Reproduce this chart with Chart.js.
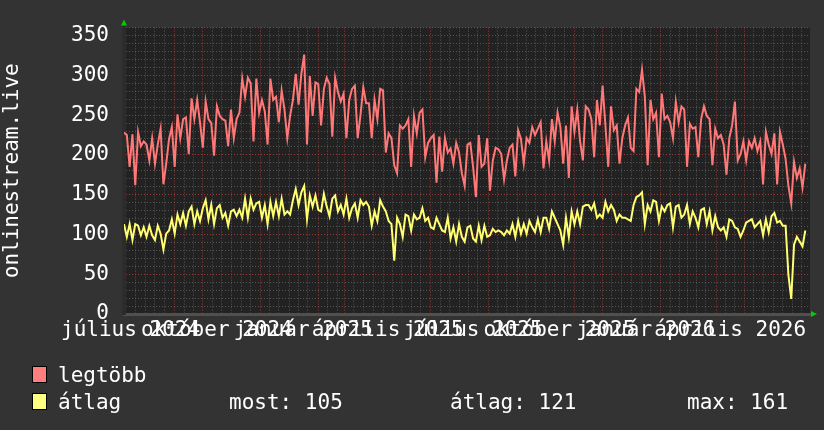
<!DOCTYPE html>
<html>
<head>
<meta charset="utf-8">
<script src="https://cdn.jsdelivr.net/npm/chart.js@4.4.1/dist/chart.umd.min.js"></script>
<style>
  html, body { margin: 0; padding: 0; background: #333; }
  #wrap { position: relative; width: 824px; height: 430px; }
  .leg { position: absolute; font: 21px 'DejaVu Sans Mono', monospace; color: #fff; line-height: 24px; white-space: pre; }
  .sw { position: absolute; left: 32px; width: 13px; height: 15px; border: 1px solid #000; }
</style>
</head>
<body>
<div id="wrap">
  <canvas id="graph" width="824" height="430"></canvas>
</div>
<script>
// napi csúcs (legtöbb) és átlag nézőszám, 3 naponta olvasva
const peakViewers = [
  228, 225, 185, 226, 162, 229, 211, 217, 213, 193,
  221, 189, 213, 233, 163, 189, 220, 235, 185, 251,
  221, 245, 247, 201, 271, 245, 269, 241, 209, 267,
  245, 240, 199, 261, 249, 245, 243, 211, 257, 221,
  245, 253, 296, 273, 297, 290, 217, 296, 253, 269,
  255, 213, 296, 269, 273, 241, 281, 257, 221, 249,
  269, 302, 263, 302, 326, 213, 299, 249, 291, 289,
  237, 283, 297, 289, 223, 297, 279, 267, 277, 221,
  269, 283, 287, 221,
  250, 285, 265, 265, 221, 269, 245, 283, 281, 203,
  227, 221, 187, 177, 237, 233, 237, 245, 185, 249,
  227, 253, 257, 197, 215, 221, 225, 165, 223, 179,
  221, 203, 208, 189, 215, 203, 177, 161, 213, 215,
  185, 147, 225, 185, 189, 221, 155, 193, 209, 207,
  201, 169, 193, 209, 213, 173, 231, 220, 189, 221,
  215, 235, 225, 233, 241, 183, 217, 193, 245, 217,
  253, 235, 189, 237, 171, 261, 229, 257, 217, 193,
  261, 257, 245, 197, 269,
  237, 287, 237, 185, 261, 231, 237, 189, 221, 237,
  247, 209, 205, 283, 279, 307, 273, 187, 269, 245,
  253, 197, 277, 245, 249, 241, 221, 267, 241, 261,
  257, 185, 239, 233, 235, 197, 245, 261, 249, 245,
  187, 233, 221, 225, 213, 175, 221, 237, 267, 193,
  201, 217, 193, 217, 209, 221, 205, 217, 163, 229,
  213, 201, 227, 163, 229, 213, 195, 161, 139, 191,
  171, 183, 159, 189
];

const avgViewers = [
  113, 97, 113, 93, 113, 111, 99, 109, 97, 111,
  99, 93, 111, 101, 81, 101, 105, 119, 101, 125,
  113, 127, 111, 129, 135, 113, 129, 117, 133, 143,
  119, 137, 113, 133, 137, 121, 127, 111, 129, 131,
  123, 131, 121, 145, 121, 145, 131, 139, 141, 121,
  137, 113, 141, 123, 141, 123, 145, 125, 129, 125,
  143, 157, 137, 153, 161, 119, 149, 135, 149, 131,
  129, 151, 135, 123, 145, 149, 129, 137, 125, 145,
  121, 133, 139, 121,
  143, 137, 141, 135, 111, 129, 117, 143, 135, 129,
  117, 113, 67, 121, 113, 97, 125, 123, 105, 125,
  119, 121, 133, 117, 121, 109, 107, 121, 113, 105,
  103, 121, 95, 109, 91, 113, 97, 91, 109, 111,
  95, 91, 111, 93, 111, 97, 99, 107, 103, 105,
  103, 99, 105, 101, 113, 97, 117, 101, 113, 101,
  117, 109, 103, 119, 103, 121, 121, 107, 129, 121,
  113, 105, 87, 121, 97, 129, 113, 129, 113, 135,
  137, 137, 131, 139, 121,
  125, 121, 141, 129, 137, 131, 117, 125, 121, 121,
  119, 117, 137, 147, 149, 153, 113, 137, 129, 143,
  141, 117, 135, 129, 137, 139, 109, 135, 137, 121,
  125, 137, 113, 129, 121, 109, 131, 133, 113, 129,
  105, 123, 109, 105, 109, 97, 119, 117, 109, 107,
  97, 105, 115, 117, 119, 109, 113, 117, 99, 119,
  103, 123, 127, 115, 117, 111, 111, 49, 19, 87,
  97, 91, 85, 105
];

const xLabels = ['július 2024', 'október 2024', 'január 2025', 'április 2025',
                 'július 2025', 'október 2025', 'január 2026', 'április 2026'];
const xLabelDates = ['2024-07-16', '2024-10-16', '2025-01-16', '2025-04-16',
                     '2025-07-16', '2025-10-16', '2026-01-16', '2026-04-16'];
const yLabels = [0, 50, 100, 150, 200, 250, 300, 350];
const yMax = 360;
const legendStats = ['most: 105', 'átlag: 121', 'max: 161'];

const startDate = Date.UTC(2024, 6, 9);
const dayMs = 86400000;
const stepDays = 3;
const spanDays = 731;
const sampleDays = peakViewers.map((v, i) => i * stepDays);
const dayOf = s => (Date.parse(s) - startDate) / dayMs;

const redGrid = 'rgba(175, 60, 60, 0.85)';
const grayGrid = 'rgba(120, 120, 120, 0.6)';
const font = { family: "'DejaVu Sans Mono', monospace", size: 21 };

// hónap eleje = piros rács, 11. és 21. = szürke, hónap közepe = felirat
const xMarks = new Map();
for (let m = 6; m <= 31; m++) {
  [[1, 'major'], [11, 'minor'], [21, 'minor']].forEach(([d, kind]) => {
    const day = (Date.UTC(2024, m, d) - startDate) / dayMs;
    if (day > 0 && day < spanDays) xMarks.set(day, { kind });
  });
}
xLabelDates.forEach((s, i) => xMarks.set(dayOf(s), { kind: 'label', text: xLabels[i] }));

const background = {
  id: 'background',
  beforeDraw(chart) {
    const { ctx, chartArea: a } = chart;
    ctx.save();
    ctx.fillStyle = '#333333';
    ctx.fillRect(0, 0, chart.width, chart.height);
    ctx.fillStyle = '#222222';
    ctx.fillRect(a.left, a.top, a.right - a.left, a.bottom - a.top);
    ctx.restore();
  }
};

const arrows = {
  id: 'arrows',
  afterDraw(chart) {
    const { ctx, chartArea: a } = chart;
    ctx.save();
    ctx.fillStyle = '#00cc00';
    ctx.beginPath();
    ctx.moveTo(a.left - 3, a.top - 2);
    ctx.lineTo(a.left + 3, a.top - 2);
    ctx.lineTo(a.left, a.top - 8);
    ctx.fill();
    ctx.beginPath();
    ctx.moveTo(a.right + 1, a.bottom - 3);
    ctx.lineTo(a.right + 1, a.bottom + 3);
    ctx.lineTo(a.right + 7, a.bottom);
    ctx.fill();
    ctx.restore();
  }
};

new Chart(document.getElementById('graph'), {
  type: 'line',
  data: {
    labels: sampleDays,
    datasets: [
      {
        label: 'legtöbb',
        data: peakViewers,
        borderColor: '#ff7878',
        borderWidth: 2,
        pointRadius: 0,
        tension: 0
      },
      {
        label: 'átlag',
        data: avgViewers,
        borderColor: '#ffff70',
        borderWidth: 2,
        pointRadius: 0,
        tension: 0
      }
    ]
  },
  options: {
    responsive: false,
    animation: false,
    devicePixelRatio: 1,
    layout: { padding: { top: 15, right: 14, left: 0, bottom: 0 } },
    plugins: {
      legend: { display: false },
      tooltip: { enabled: false }
    },
    scales: {
      x: {
        type: 'linear',
        min: 0,
        max: spanDays,
        afterBuildTicks: s => {
          s.ticks = [...xMarks.keys()].sort((a, b) => a - b).map(v => ({ value: v }));
        },
        afterFit: s => { s.height = 116; },
        ticks: {
          autoSkip: false,
          maxRotation: 0,
          minRotation: 0,
          padding: 4,
          color: '#ffffff',
          font: font,
          callback: v => {
            const m = xMarks.get(v);
            return m && m.kind === 'label' ? m.text : '';
          }
        },
        grid: {
          drawTicks: false,
          lineWidth: 1,
          color: c => {
            const m = c.tick && xMarks.get(c.tick.value);
            if (!m || m.kind === 'label') return 'rgba(0,0,0,0)';
            return m.kind === 'major' ? redGrid : grayGrid;
          }
        },
        border: { display: true, color: '#505050', width: 3, dash: [1, 2] }
      },
      y: {
        min: 0,
        max: yMax,
        afterBuildTicks: s => {
          s.ticks = Array.from({ length: yMax / 10 + 1 }, (_, i) => ({ value: i * 10 }));
        },
        afterFit: s => { s.width = 124; },
        ticks: {
          autoSkip: false,
          padding: 15,
          color: '#ffffff',
          font: font,
          callback: v => yLabels.includes(v) ? String(v) : ''
        },
        grid: {
          drawTicks: false,
          lineWidth: 1,
          color: c => (c.tick && c.tick.value % 50 === 0) ? redGrid : grayGrid
        },
        border: { display: true, color: '#2c2c2c', width: 4, dash: [1, 2] },
        title: {
          display: true,
          text: 'onlinestream.live',
          color: '#ffffff',
          font: font,
          padding: { top: 0, bottom: 0 }
        }
      }
    }
  },
  plugins: [background, arrows]
});

// jelmagyarázat
const wrap = document.getElementById('wrap');
function addText(text, left, top) {
  const d = document.createElement('div');
  d.className = 'leg';
  d.style.left = left + 'px';
  d.style.top = top + 'px';
  d.textContent = text;
  wrap.appendChild(d);
}
function addSwatch(color, top) {
  const d = document.createElement('div');
  d.className = 'sw';
  d.style.top = top + 'px';
  d.style.background = color;
  wrap.appendChild(d);
}
addSwatch('#ff7f7f', 366);
addText('legtöbb', 58, 363);
addSwatch('#ffff7f', 393);
addText('átlag', 58, 390);
addText(legendStats[0], 229, 390);
addText(legendStats[1], 450, 390);
addText(legendStats[2], 687, 390);
</script>
</body>
</html>
